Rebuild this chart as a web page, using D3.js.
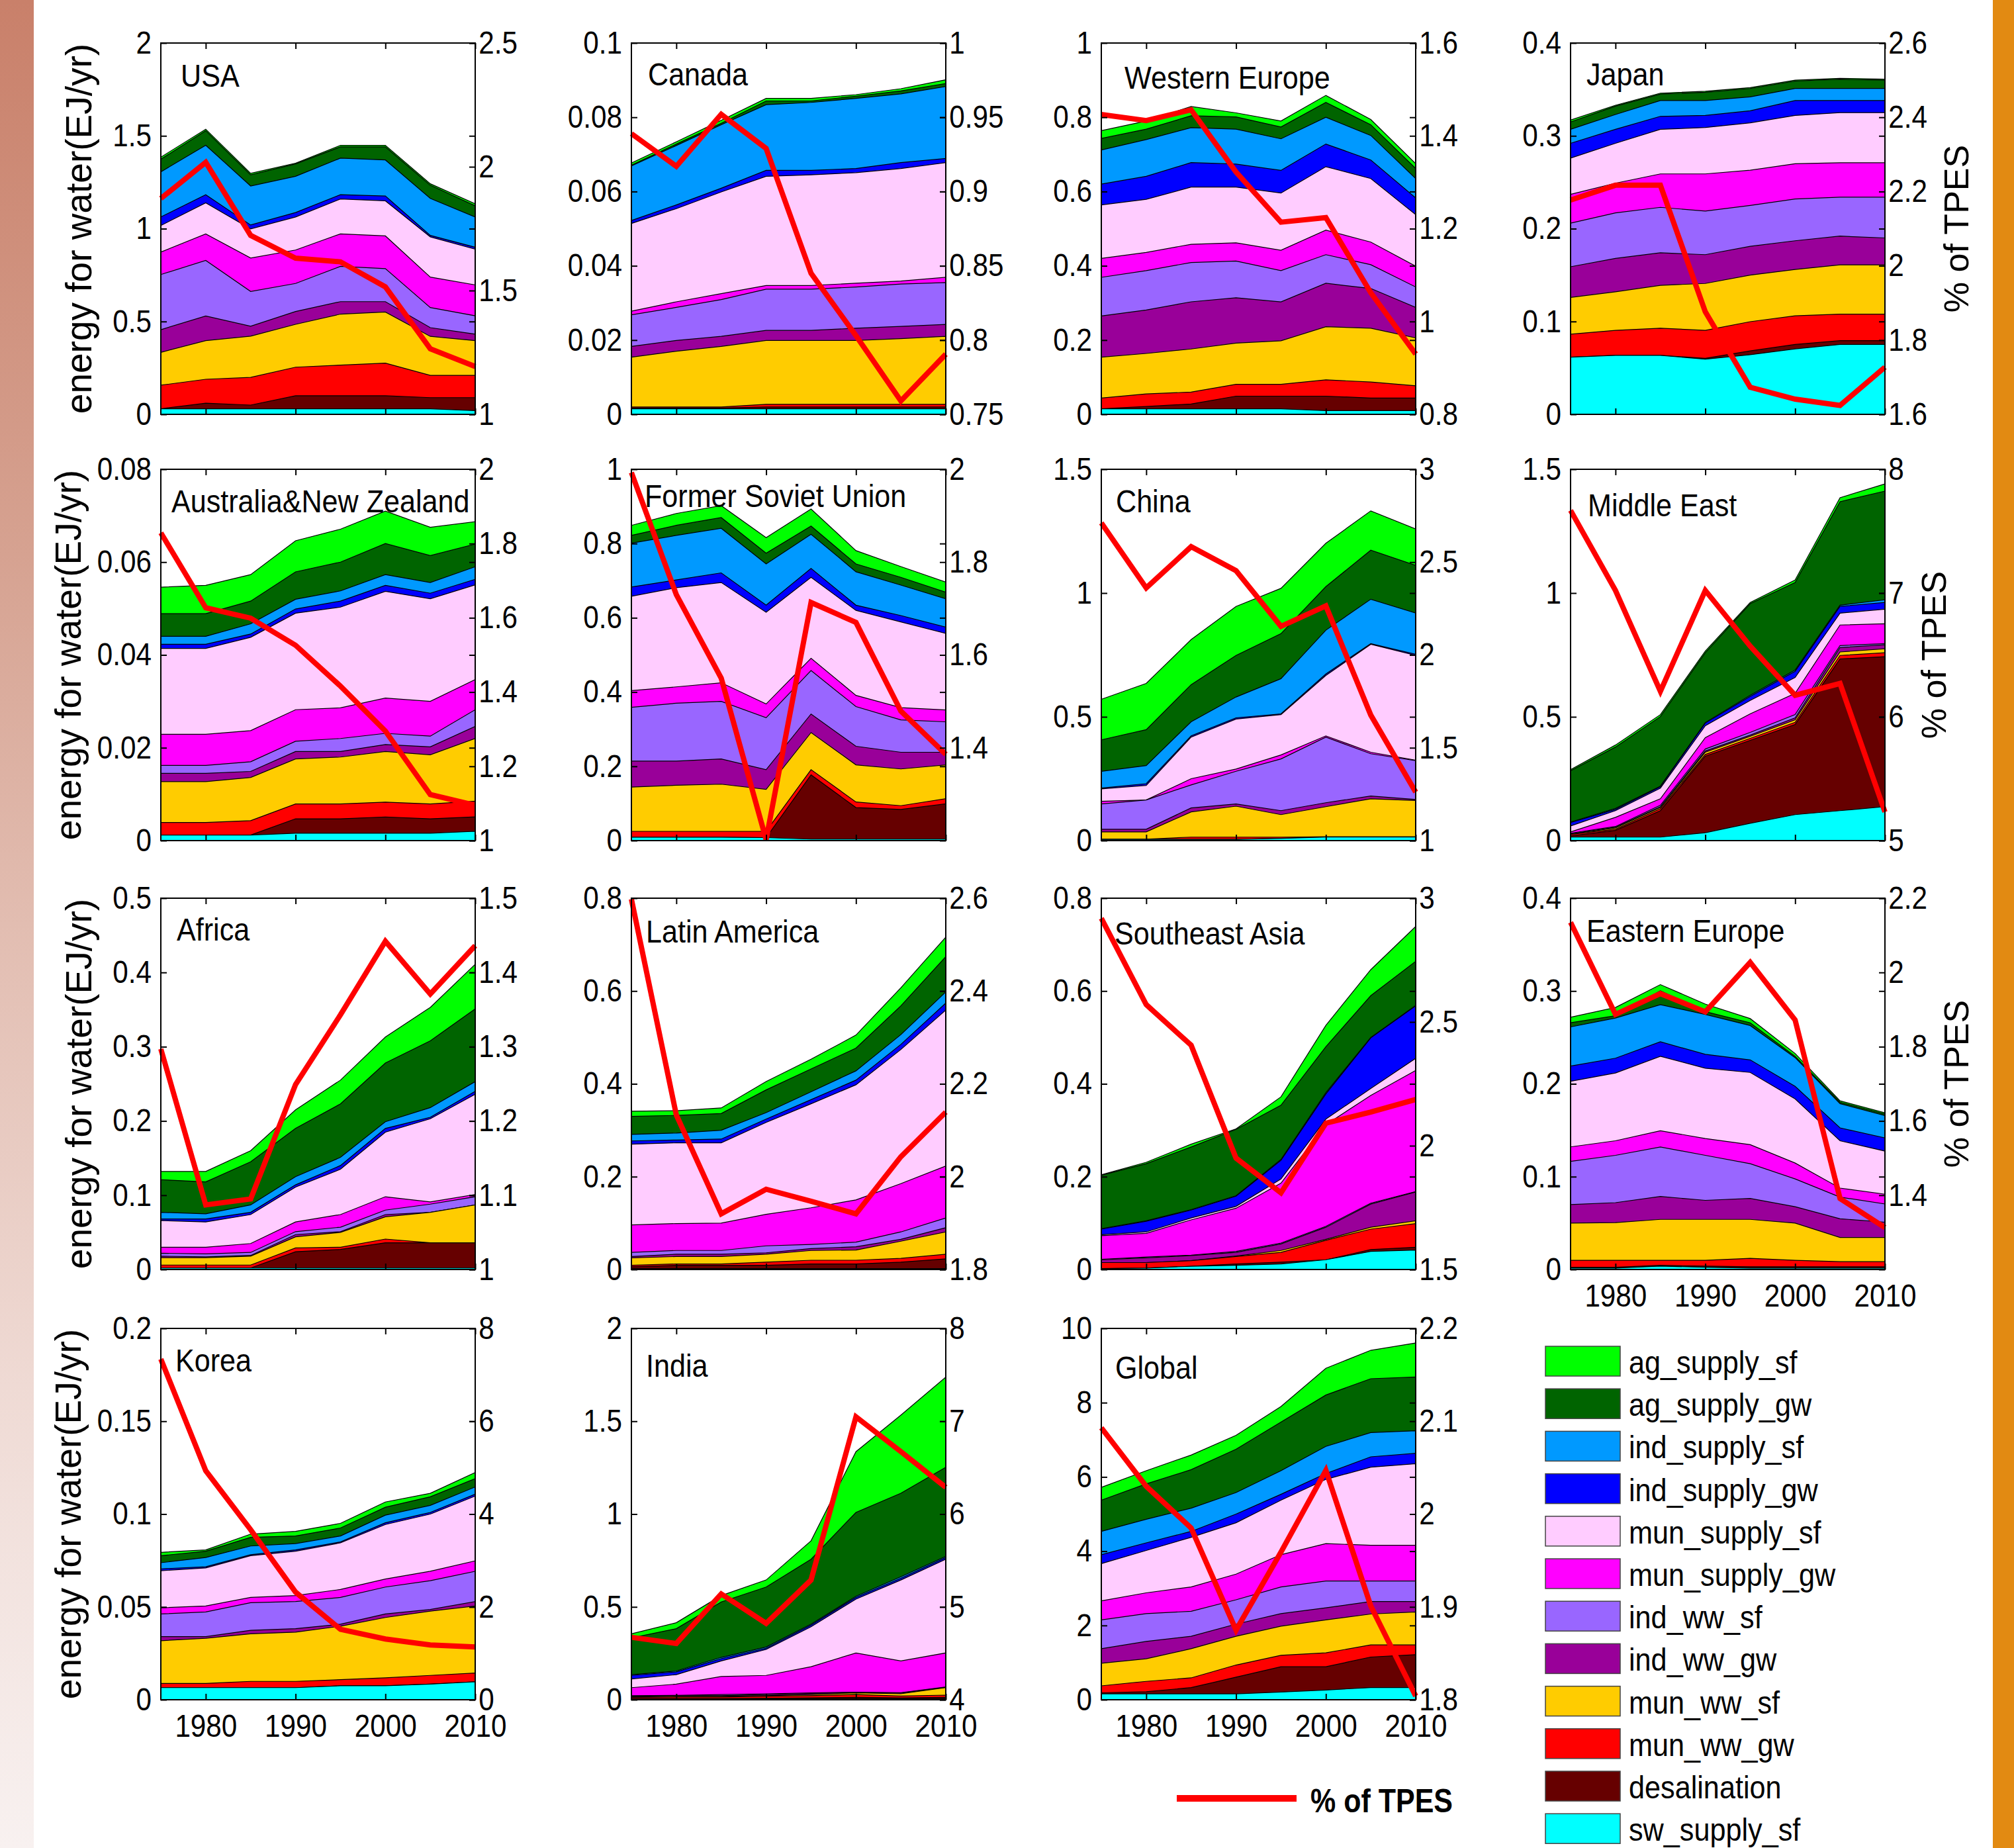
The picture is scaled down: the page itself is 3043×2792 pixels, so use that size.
<!DOCTYPE html>
<html>
<head>
<meta charset="utf-8">
<script src="https://cdn.jsdelivr.net/npm/d3@7"></script>
<style>
  body { margin: 0; background: #fff; }
  svg { display: block; }
  text { font-family: "Liberation Sans", Arial, sans-serif; }
</style>
</head>
<body>
<div id="chart"></div>
<script>
const years = [1975, 1980, 1985, 1990, 1995, 2000, 2005, 2010];
const xTicks = [1980, 1990, 2000, 2010];

// stacking order, bottom layer first
const layerNames = ['sw_supply_sf', 'desalination', 'mun_ww_gw', 'mun_ww_sf', 'ind_ww_gw', 'ind_ww_sf',
  'mun_supply_gw', 'mun_supply_sf', 'ind_supply_gw', 'ind_supply_sf', 'ag_supply_gw', 'ag_supply_sf'];
const layerColors = ['#00ffff', '#660000', '#ff0000', '#ffcc00', '#990099', '#9966ff',
  '#ff00ff', '#ffccff', '#0000ff', '#0099ff', '#006400', '#00ff00'];

// cumulative top of each layer (EJ/yr), one row per layer, bottom layer first
const usaLayers = [
  [0.03, 0.03, 0.03, 0.03, 0.03, 0.03, 0.03, 0.02],
  [0.03, 0.06, 0.05, 0.10, 0.10, 0.10, 0.09, 0.09],
  [0.157, 0.189, 0.199, 0.254, 0.265, 0.276, 0.21, 0.21],
  [0.334, 0.397, 0.421, 0.485, 0.54, 0.551, 0.42, 0.397],
  [0.456, 0.53, 0.475, 0.554, 0.607, 0.607, 0.467, 0.432],
  [0.753, 0.829, 0.662, 0.705, 0.797, 0.785, 0.575, 0.531],
  [0.874, 0.972, 0.842, 0.885, 0.972, 0.961, 0.739, 0.697],
  [1.017, 1.139, 0.999, 1.063, 1.16, 1.15, 0.956, 0.89],
  [1.063, 1.183, 1.02, 1.087, 1.183, 1.176, 0.964, 0.90],
  [1.306, 1.449, 1.23, 1.282, 1.38, 1.37, 1.163, 1.063],
  [1.374, 1.528, 1.29, 1.349, 1.441, 1.441, 1.234, 1.123],
  [1.385, 1.536, 1.298, 1.353, 1.449, 1.449, 1.242, 1.134]
];
const usaTpes = [1.872, 2.018, 1.723, 1.631, 1.616, 1.515, 1.265, 1.193];

const canadaLayers = [
  [0.0015, 0.0015, 0.0015, 0.0015, 0.0015, 0.0015, 0.0015, 0.0015],
  [0.0017, 0.0017, 0.0017, 0.002, 0.002, 0.002, 0.002, 0.002],
  [0.002, 0.002, 0.002, 0.0027, 0.0027, 0.0027, 0.0027, 0.0027],
  [0.0154, 0.017, 0.0183, 0.0199, 0.0199, 0.0199, 0.0204, 0.021],
  [0.0183, 0.0199, 0.021, 0.0226, 0.0226, 0.0232, 0.0237, 0.0242],
  [0.0268, 0.0288, 0.0309, 0.0337, 0.0337, 0.0343, 0.0351, 0.0355],
  [0.0278, 0.0303, 0.0325, 0.0347, 0.0347, 0.0353, 0.0359, 0.0369],
  [0.0514, 0.0554, 0.0599, 0.0641, 0.0645, 0.0651, 0.0662, 0.0678],
  [0.0522, 0.0564, 0.0609, 0.0657, 0.0657, 0.0662, 0.0678, 0.0689],
  [0.0669, 0.0724, 0.078, 0.0834, 0.084, 0.0851, 0.0863, 0.0883],
  [0.0671, 0.0728, 0.0784, 0.0844, 0.0844, 0.0857, 0.0871, 0.0891],
  [0.0677, 0.0734, 0.0792, 0.0851, 0.0851, 0.0861, 0.0877, 0.0901]
];
const canadaTpes = [0.939, 0.917, 0.952, 0.929, 0.845, 0.803, 0.759, 0.7905];

const weuropeLayers = [
  [0.015, 0.015, 0.015, 0.015, 0.015, 0.01, 0.01, 0.01],
  [0.015, 0.021, 0.028, 0.049, 0.049, 0.049, 0.044, 0.044],
  [0.044, 0.055, 0.06, 0.081, 0.081, 0.093, 0.087, 0.077],
  [0.154, 0.164, 0.176, 0.192, 0.198, 0.236, 0.232, 0.206],
  [0.265, 0.281, 0.303, 0.314, 0.303, 0.353, 0.339, 0.288],
  [0.369, 0.387, 0.409, 0.413, 0.387, 0.43, 0.403, 0.343],
  [0.42, 0.436, 0.458, 0.462, 0.442, 0.496, 0.464, 0.399],
  [0.564, 0.579, 0.612, 0.612, 0.596, 0.667, 0.635, 0.538],
  [0.62, 0.641, 0.678, 0.674, 0.657, 0.728, 0.685, 0.583],
  [0.712, 0.74, 0.772, 0.768, 0.742, 0.8, 0.751, 0.635],
  [0.743, 0.768, 0.804, 0.801, 0.774, 0.84, 0.78, 0.662],
  [0.764, 0.79, 0.829, 0.812, 0.79, 0.859, 0.794, 0.675]
];
const weuropeTpes = [1.446, 1.433, 1.456, 1.322, 1.214, 1.224, 1.062, 0.930];

const japanLayers = [
  [0.0616, 0.0635, 0.0635, 0.0594, 0.0642, 0.0705, 0.0753, 0.0753],
  [0.0616, 0.0635, 0.0635, 0.0604, 0.0683, 0.0753, 0.0794, 0.0794],
  [0.0864, 0.0905, 0.0928, 0.0905, 0.0998, 0.1061, 0.108, 0.108],
  [0.126, 0.132, 0.139, 0.141, 0.15, 0.156, 0.161, 0.161],
  [0.159, 0.168, 0.174, 0.172, 0.181, 0.187, 0.192, 0.19],
  [0.206, 0.217, 0.223, 0.219, 0.225, 0.232, 0.234, 0.234],
  [0.237, 0.249, 0.259, 0.259, 0.263, 0.27, 0.271, 0.271],
  [0.276, 0.292, 0.307, 0.309, 0.314, 0.322, 0.325, 0.325],
  [0.292, 0.307, 0.321, 0.322, 0.327, 0.338, 0.338, 0.338],
  [0.307, 0.323, 0.338, 0.338, 0.342, 0.351, 0.351, 0.351],
  [0.315, 0.332, 0.345, 0.347, 0.351, 0.359, 0.361, 0.36],
  [0.317, 0.333, 0.346, 0.348, 0.352, 0.36, 0.362, 0.361]
];
const japanTpes = [2.177, 2.217, 2.217, 1.876, 1.673, 1.641, 1.624, 1.727];

const ausnzLayers = [
  [0.0012, 0.0012, 0.0012, 0.0016, 0.0016, 0.0016, 0.0016, 0.002],
  [0.0012, 0.0012, 0.0012, 0.0047, 0.0047, 0.0051, 0.0047, 0.0051],
  [0.0039, 0.0039, 0.0043, 0.0079, 0.0079, 0.0083, 0.0079, 0.0085],
  [0.0127, 0.0127, 0.0136, 0.0176, 0.018, 0.0192, 0.0185, 0.022],
  [0.0145, 0.0145, 0.0149, 0.0192, 0.0192, 0.0207, 0.0202, 0.0246],
  [0.0162, 0.0162, 0.017, 0.0214, 0.022, 0.0231, 0.0225, 0.0282],
  [0.0229, 0.0229, 0.0237, 0.0282, 0.0286, 0.0307, 0.03, 0.0347],
  [0.0414, 0.0414, 0.0438, 0.049, 0.0503, 0.0537, 0.0521, 0.0551],
  [0.0423, 0.0423, 0.0445, 0.0499, 0.0516, 0.055, 0.0533, 0.0563],
  [0.044, 0.044, 0.0467, 0.052, 0.0538, 0.0573, 0.0556, 0.059],
  [0.0489, 0.0489, 0.0516, 0.0579, 0.06, 0.064, 0.0614, 0.0639],
  [0.0546, 0.055, 0.0573, 0.0646, 0.0671, 0.071, 0.0675, 0.0687]
];
const ausnzTpes = [1.829, 1.627, 1.599, 1.526, 1.416, 1.295, 1.124, 1.095];

const fsuLayers = [
  [0.009, 0.009, 0.009, 0.008, 0.004, 0.004, 0.004, 0.004],
  [0.009, 0.009, 0.009, 0.008, 0.177, 0.089, 0.084, 0.099],
  [0.025, 0.025, 0.025, 0.025, 0.191, 0.104, 0.094, 0.113],
  [0.144, 0.149, 0.152, 0.138, 0.291, 0.204, 0.193, 0.204],
  [0.214, 0.214, 0.22, 0.191, 0.341, 0.254, 0.238, 0.238],
  [0.359, 0.37, 0.375, 0.331, 0.458, 0.361, 0.325, 0.32],
  [0.404, 0.414, 0.425, 0.368, 0.491, 0.391, 0.358, 0.352],
  [0.658, 0.681, 0.695, 0.615, 0.709, 0.62, 0.589, 0.558],
  [0.683, 0.702, 0.721, 0.634, 0.733, 0.634, 0.606, 0.575],
  [0.801, 0.822, 0.841, 0.745, 0.825, 0.724, 0.688, 0.651],
  [0.822, 0.849, 0.87, 0.774, 0.847, 0.745, 0.709, 0.669],
  [0.849, 0.881, 0.902, 0.816, 0.893, 0.781, 0.738, 0.696]
];
const fsuTpes = [1.993, 1.730, 1.550, 1.202, 1.713, 1.670, 1.479, 1.386];

const chinaLayers = [
  [0.005, 0.005, 0.005, 0.005, 0.009, 0.014, 0.014, 0.014],
  [0.005, 0.005, 0.005, 0.005, 0.009, 0.014, 0.014, 0.014],
  [0.006, 0.006, 0.014, 0.014, 0.014, 0.016, 0.016, 0.016],
  [0.035, 0.035, 0.116, 0.139, 0.105, 0.137, 0.169, 0.162],
  [0.046, 0.046, 0.132, 0.148, 0.121, 0.153, 0.18, 0.166],
  [0.148, 0.164, 0.225, 0.28, 0.33, 0.418, 0.351, 0.323],
  [0.159, 0.164, 0.25, 0.289, 0.346, 0.423, 0.357, 0.325],
  [0.209, 0.223, 0.418, 0.491, 0.509, 0.667, 0.793, 0.748],
  [0.212, 0.23, 0.423, 0.496, 0.512, 0.673, 0.796, 0.753],
  [0.28, 0.303, 0.48, 0.58, 0.654, 0.85, 0.975, 0.919],
  [0.407, 0.448, 0.63, 0.748, 0.836, 1.026, 1.173, 1.112],
  [0.571, 0.635, 0.812, 0.946, 1.019, 1.201, 1.332, 1.259]
];
const chinaTpes = [2.711, 2.361, 2.583, 2.454, 2.154, 2.264, 1.676, 1.261];

const meastLayers = [
  [0.014, 0.014, 0.014, 0.032, 0.07, 0.105, 0.121, 0.137],
  [0.019, 0.041, 0.121, 0.341, 0.405, 0.469, 0.734, 0.743],
  [0.025, 0.046, 0.129, 0.348, 0.413, 0.478, 0.748, 0.759],
  [0.027, 0.051, 0.134, 0.357, 0.421, 0.488, 0.762, 0.775],
  [0.027, 0.054, 0.137, 0.362, 0.426, 0.496, 0.78, 0.791],
  [0.03, 0.057, 0.143, 0.37, 0.437, 0.509, 0.788, 0.796],
  [0.035, 0.094, 0.169, 0.416, 0.512, 0.595, 0.871, 0.876],
  [0.059, 0.121, 0.212, 0.464, 0.566, 0.659, 0.919, 0.935],
  [0.073, 0.126, 0.218, 0.475, 0.582, 0.684, 0.946, 0.962],
  [0.075, 0.13, 0.22, 0.477, 0.587, 0.689, 0.951, 0.973],
  [0.282, 0.378, 0.501, 0.759, 0.957, 1.043, 1.369, 1.412],
  [0.287, 0.386, 0.509, 0.766, 0.962, 1.053, 1.385, 1.441]
];
const meastTpes = [7.668, 7.021, 6.206, 7.021, 6.571, 6.174, 6.27, 5.231];

const africaLayers = [
  [0.002, 0.002, 0.002, 0.002, 0.002, 0.002, 0.002, 0.002],
  [0.002, 0.002, 0.002, 0.024, 0.027, 0.036, 0.036, 0.036],
  [0.006, 0.006, 0.006, 0.029, 0.03, 0.041, 0.036, 0.036],
  [0.016, 0.016, 0.018, 0.044, 0.05, 0.071, 0.077, 0.087],
  [0.018, 0.017, 0.019, 0.047, 0.051, 0.074, 0.077, 0.087],
  [0.022, 0.021, 0.023, 0.051, 0.057, 0.08, 0.088, 0.098],
  [0.03, 0.03, 0.035, 0.064, 0.074, 0.098, 0.091, 0.101],
  [0.066, 0.064, 0.074, 0.111, 0.135, 0.185, 0.203, 0.236],
  [0.068, 0.068, 0.077, 0.114, 0.14, 0.19, 0.205, 0.24],
  [0.077, 0.075, 0.087, 0.125, 0.151, 0.199, 0.218, 0.253],
  [0.121, 0.118, 0.145, 0.19, 0.223, 0.278, 0.308, 0.351],
  [0.132, 0.132, 0.16, 0.215, 0.255, 0.313, 0.353, 0.411]
];
const africaTpes = [1.297, 1.087, 1.095, 1.249, 1.343, 1.442, 1.371, 1.436];

const latamLayers = [
  [0.002, 0.002, 0.002, 0.002, 0.002, 0.002, 0.002, 0.002],
  [0.006, 0.009, 0.009, 0.009, 0.012, 0.012, 0.016, 0.023],
  [0.009, 0.012, 0.012, 0.016, 0.02, 0.02, 0.024, 0.033],
  [0.025, 0.028, 0.028, 0.033, 0.041, 0.042, 0.061, 0.081],
  [0.028, 0.033, 0.033, 0.036, 0.045, 0.049, 0.065, 0.09],
  [0.037, 0.041, 0.041, 0.051, 0.054, 0.059, 0.081, 0.111],
  [0.096, 0.099, 0.1, 0.119, 0.133, 0.15, 0.185, 0.223],
  [0.27, 0.273, 0.273, 0.317, 0.357, 0.398, 0.474, 0.559],
  [0.277, 0.279, 0.281, 0.324, 0.366, 0.408, 0.485, 0.574],
  [0.291, 0.294, 0.3, 0.338, 0.383, 0.428, 0.506, 0.598],
  [0.33, 0.332, 0.336, 0.387, 0.432, 0.477, 0.568, 0.674],
  [0.341, 0.342, 0.348, 0.405, 0.453, 0.505, 0.607, 0.716]
];
const latamTpes = [2.598, 2.133, 1.92, 1.973, 1.947, 1.92, 2.043, 2.139];

const seasiaLayers = [
  [0.002, 0.003, 0.007, 0.009, 0.012, 0.021, 0.039, 0.042],
  [0.002, 0.003, 0.007, 0.012, 0.016, 0.021, 0.043, 0.048],
  [0.015, 0.015, 0.019, 0.028, 0.037, 0.063, 0.087, 0.099],
  [0.015, 0.015, 0.019, 0.029, 0.041, 0.065, 0.091, 0.105],
  [0.021, 0.025, 0.03, 0.037, 0.055, 0.091, 0.141, 0.167],
  [0.022, 0.027, 0.031, 0.039, 0.057, 0.093, 0.143, 0.168],
  [0.073, 0.078, 0.107, 0.132, 0.186, 0.312, 0.375, 0.429],
  [0.075, 0.081, 0.111, 0.136, 0.195, 0.324, 0.39, 0.455],
  [0.087, 0.104, 0.128, 0.158, 0.235, 0.378, 0.499, 0.568],
  [0.088, 0.105, 0.129, 0.159, 0.237, 0.381, 0.5, 0.569],
  [0.203, 0.228, 0.264, 0.302, 0.354, 0.48, 0.59, 0.664],
  [0.204, 0.231, 0.27, 0.303, 0.372, 0.526, 0.646, 0.739]
];
const seasiaTpes = [2.919, 2.57, 2.406, 1.95, 1.81, 2.091, 2.136, 2.187];

const eeuropeLayers = [
  [0.0015, 0.0015, 0.0036, 0.0024, 0.0015, 0.0015, 0.0015, 0.0015],
  [0.0024, 0.0024, 0.0045, 0.0036, 0.003, 0.003, 0.003, 0.003],
  [0.0099, 0.0099, 0.0099, 0.0099, 0.012, 0.0099, 0.0084, 0.0084],
  [0.05, 0.0505, 0.054, 0.054, 0.054, 0.05, 0.0345, 0.0345],
  [0.07, 0.072, 0.0787, 0.0745, 0.0766, 0.0676, 0.0547, 0.051],
  [0.1165, 0.123, 0.132, 0.123, 0.114, 0.0976, 0.078, 0.0706],
  [0.1321, 0.1387, 0.1495, 0.1411, 0.1345, 0.1147, 0.0877, 0.0811],
  [0.2027, 0.2117, 0.2297, 0.2168, 0.2123, 0.1838, 0.1387, 0.1276],
  [0.2192, 0.2276, 0.2453, 0.2318, 0.2258, 0.1973, 0.1526, 0.1417],
  [0.2613, 0.2709, 0.2853, 0.2748, 0.2628, 0.2282, 0.1787, 0.1658],
  [0.2658, 0.2733, 0.3003, 0.2778, 0.2658, 0.2297, 0.1802, 0.1676],
  [0.2718, 0.2823, 0.3069, 0.2859, 0.2703, 0.2327, 0.1817, 0.1688]
];
const eeuropeTpes = [2.135, 1.887, 1.943, 1.894, 2.027, 1.872, 1.391, 1.313];

const koreaLayers = [
  [0.0065, 0.0065, 0.0065, 0.0065, 0.0075, 0.0075, 0.0084, 0.0097],
  [0.0065, 0.0065, 0.0065, 0.0065, 0.0075, 0.0075, 0.0084, 0.0097],
  [0.0088, 0.0088, 0.0099, 0.0099, 0.0108, 0.0118, 0.0131, 0.0144],
  [0.0318, 0.0331, 0.0355, 0.0364, 0.0396, 0.0443, 0.0477, 0.0505],
  [0.034, 0.034, 0.0374, 0.0383, 0.0407, 0.0462, 0.0486, 0.0529],
  [0.0462, 0.0473, 0.0523, 0.0529, 0.0551, 0.0607, 0.0641, 0.0692],
  [0.0495, 0.0505, 0.0551, 0.0561, 0.0594, 0.065, 0.0692, 0.0748],
  [0.0695, 0.071, 0.0776, 0.08, 0.0845, 0.0944, 0.1, 0.1097],
  [0.0705, 0.0716, 0.0781, 0.0807, 0.085, 0.0953, 0.1009, 0.1107],
  [0.0738, 0.0766, 0.0828, 0.0841, 0.0882, 0.0994, 0.1047, 0.1146],
  [0.0776, 0.08, 0.0875, 0.0882, 0.0925, 0.1037, 0.1093, 0.1191],
  [0.0794, 0.0807, 0.0892, 0.0907, 0.095, 0.1065, 0.1112, 0.1224]
];
const koreaTpes = [7.342, 4.935, 3.664, 2.318, 1.518, 1.308, 1.181, 1.136];

const indiaLayers = [
  [0.006, 0.006, 0.006, 0.006, 0.006, 0.006, 0.006, 0.006],
  [0.006, 0.006, 0.006, 0.008, 0.010, 0.013, 0.010, 0.013],
  [0.013, 0.015, 0.015, 0.019, 0.022, 0.028, 0.02, 0.025],
  [0.015, 0.019, 0.019, 0.022, 0.028, 0.037, 0.032, 0.065],
  [0.019, 0.022, 0.022, 0.028, 0.034, 0.039, 0.036, 0.067],
  [0.022, 0.024, 0.028, 0.032, 0.037, 0.041, 0.038, 0.069],
  [0.065, 0.084, 0.125, 0.131, 0.178, 0.252, 0.209, 0.252],
  [0.112, 0.135, 0.209, 0.271, 0.393, 0.542, 0.645, 0.757],
  [0.131, 0.15, 0.221, 0.277, 0.402, 0.551, 0.654, 0.766],
  [0.135, 0.155, 0.228, 0.284, 0.407, 0.557, 0.662, 0.772],
  [0.333, 0.383, 0.527, 0.607, 0.757, 1.009, 1.112, 1.252],
  [0.355, 0.415, 0.561, 0.645, 0.856, 1.336, 1.533, 1.738]
];
const indiaTpes = [4.673, 4.606, 5.14, 4.822, 5.29, 7.047, 6.673, 6.288];

const globalLayers = [
  [0.159, 0.159, 0.159, 0.159, 0.206, 0.262, 0.327, 0.327],
  [0.187, 0.215, 0.327, 0.607, 0.888, 0.888, 1.15, 1.215],
  [0.374, 0.495, 0.589, 0.935, 1.196, 1.262, 1.477, 1.477],
  [0.981, 1.103, 1.374, 1.71, 1.981, 2.15, 2.308, 2.364],
  [1.374, 1.57, 1.71, 2.037, 2.318, 2.477, 2.645, 2.645],
  [2.15, 2.318, 2.383, 2.692, 3.037, 3.196, 3.196, 3.196],
  [2.664, 2.879, 3.037, 3.383, 3.907, 4.206, 4.159, 4.159],
  [3.664, 4.019, 4.374, 4.766, 5.374, 5.935, 6.262, 6.355],
  [3.907, 4.224, 4.533, 5.0, 5.533, 6.093, 6.542, 6.636],
  [4.533, 4.86, 5.159, 5.579, 6.168, 6.822, 7.196, 7.243],
  [5.374, 5.813, 6.196, 6.748, 7.477, 8.206, 8.645, 8.692],
  [5.72, 6.168, 6.589, 7.121, 7.897, 8.925, 9.411, 9.607]
];
const globalTpes = [2.093, 2.03, 1.985, 1.875, 1.959, 2.047, 1.901, 1.804];

// panel setup: left axis ticks (EJ/yr) and right axis ticks (% of TPES)
const panels = [
  { name: 'USA', layers: usaLayers, tpes: usaTpes, col: 0, row: 0, yTicks: [0, 0.5, 1, 1.5, 2], rDom: [1, 2.5], rTicks: [1, 1.5, 2, 2.5], tx: 30, ty: 66 },
  { name: 'Canada', layers: canadaLayers, tpes: canadaTpes, col: 1, row: 0, yTicks: [0, 0.02, 0.04, 0.06, 0.08, 0.1], rDom: [0.75, 1], rTicks: [0.75, 0.8, 0.85, 0.9, 0.95, 1], tx: 25, ty: 64 },
  { name: 'Western Europe', layers: weuropeLayers, tpes: weuropeTpes, col: 2, row: 0, yTicks: [0, 0.2, 0.4, 0.6, 0.8, 1], rDom: [0.8, 1.6], rTicks: [0.8, 1, 1.2, 1.4, 1.6], tx: 35, ty: 69 },
  { name: 'Japan', layers: japanLayers, tpes: japanTpes, col: 3, row: 0, yTicks: [0, 0.1, 0.2, 0.3, 0.4], rDom: [1.6, 2.6], rTicks: [1.6, 1.8, 2, 2.2, 2.4, 2.6], tx: 24, ty: 64 },
  { name: 'Australia&New Zealand', layers: ausnzLayers, tpes: ausnzTpes, col: 0, row: 1, yTicks: [0, 0.02, 0.04, 0.06, 0.08], rDom: [1, 2], rTicks: [1, 1.2, 1.4, 1.6, 1.8, 2], tx: 16, ty: 65 },
  { name: 'Former Soviet Union', layers: fsuLayers, tpes: fsuTpes, col: 1, row: 1, yTicks: [0, 0.2, 0.4, 0.6, 0.8, 1], rDom: [1.2, 2], rTicks: [1.4, 1.6, 1.8, 2], tx: 20, ty: 57 },
  { name: 'China', layers: chinaLayers, tpes: chinaTpes, col: 2, row: 1, yTicks: [0, 0.5, 1, 1.5], rDom: [1, 3], rTicks: [1, 1.5, 2, 2.5, 3], tx: 22, ty: 65 },
  { name: 'Middle East', layers: meastLayers, tpes: meastTpes, col: 3, row: 1, yTicks: [0, 0.5, 1, 1.5], rDom: [5, 8], rTicks: [5, 6, 7, 8], tx: 26, ty: 71 },
  { name: 'Africa', layers: africaLayers, tpes: africaTpes, col: 0, row: 2, yTicks: [0, 0.1, 0.2, 0.3, 0.4, 0.5], rDom: [1, 1.5], rTicks: [1, 1.1, 1.2, 1.3, 1.4, 1.5], tx: 24, ty: 64 },
  { name: 'Latin America', layers: latamLayers, tpes: latamTpes, col: 1, row: 2, yTicks: [0, 0.2, 0.4, 0.6, 0.8], rDom: [1.8, 2.6], rTicks: [1.8, 2, 2.2, 2.4, 2.6], tx: 22, ty: 67 },
  { name: 'Southeast Asia', layers: seasiaLayers, tpes: seasiaTpes, col: 2, row: 2, yTicks: [0, 0.2, 0.4, 0.6, 0.8], rDom: [1.5, 3], rTicks: [1.5, 2, 2.5, 3], tx: 20, ty: 70 },
  { name: 'Eastern Europe', layers: eeuropeLayers, tpes: eeuropeTpes, col: 3, row: 2, yTicks: [0, 0.1, 0.2, 0.3, 0.4], rDom: [1.2, 2.2], rTicks: [1.4, 1.6, 1.8, 2, 2.2], tx: 24, ty: 66, xLabels: true },
  { name: 'Korea', layers: koreaLayers, tpes: koreaTpes, col: 0, row: 3, yTicks: [0, 0.05, 0.1, 0.15, 0.2], rDom: [0, 8], rTicks: [0, 2, 4, 6, 8], tx: 22, ty: 65, xLabels: true },
  { name: 'India', layers: indiaLayers, tpes: indiaTpes, col: 1, row: 3, yTicks: [0, 0.5, 1, 1.5, 2], rDom: [4, 8], rTicks: [4, 5, 6, 7, 8], tx: 22, ty: 73, xLabels: true },
  { name: 'Global', layers: globalLayers, tpes: globalTpes, col: 2, row: 3, yTicks: [0, 2, 4, 6, 8, 10], rDom: [1.8, 2.2], rTicks: [1.8, 1.9, 2, 2.1, 2.2], tx: 21, ty: 76, xLabels: true }
];

const colX = [243, 954, 1664, 2373];
const rowY = [65, 709, 1357, 2007];
const W = 475, H = 561;
const tickFont = 48, squeeze = 0.88;
const yLabelX = [138, 122, 138, 122];
const tpesLabelX = [2974, 2940, 2974];

const svg = d3.select('#chart').append('svg')
  .attr('width', 3043)
  .attr('height', 2792);

// side strips
const defs = svg.append('defs');
const lg = defs.append('linearGradient').attr('id', 'leftStrip')
  .attr('x1', 0).attr('y1', 0).attr('x2', 0).attr('y2', 1);
[['0', '#c9806a'], ['0.3', '#d6a291'], ['0.5', '#e2bdb1'], ['0.75', '#efdad4'], ['1', '#f8f1f0']]
  .forEach(s => lg.append('stop').attr('offset', s[0]).attr('stop-color', s[1]));
svg.append('rect').attr('x', 0).attr('y', 0).attr('width', 51).attr('height', 2792).attr('fill', 'url(#leftStrip)');
svg.append('rect').attr('x', 3011).attr('y', 0).attr('width', 32).attr('height', 2792).attr('fill', '#e28a12');

const fmt = d => String(d);

const styleAxis = (sel, labels) => {
  sel.select('.domain').remove();
  sel.selectAll('line').attr('stroke', '#000').attr('stroke-width', 2);
  sel.attr('font-size', tickFont).attr('font-family', '"Liberation Sans", Arial, sans-serif');
  sel.selectAll('text').attr('fill', '#000').attr('transform', `scale(${squeeze},1)`);
  if (!labels) sel.selectAll('text').remove();
};

const drawPanel = (p) => {
  const g = svg.append('g')
    .attr('transform', `translate(${colX[p.col]},${rowY[p.row]})`);

  const x = d3.scaleLinear().domain([1975, 2010]).range([0, W]);
  const y = d3.scaleLinear().domain([0, p.yTicks[p.yTicks.length - 1]]).range([H, 0]);
  const r = d3.scaleLinear().domain(p.rDom).range([H, 0]);

  // areas drawn from the top layer down, each filled to zero
  const area = d3.area()
    .x((d, i) => x(years[i]))
    .y0(y(0))
    .y1(d => y(d));
  const order = p.layers.map((v, i) => ({ v, i })).reverse();
  g.selectAll('path.layer')
    .data(order)
    .enter()
    .append('path')
    .attr('class', 'layer')
    .attr('d', d => area(d.v))
    .attr('fill', d => layerColors[d.i])
    .attr('stroke', '#000')
    .attr('stroke-width', 1.2);

  const line = d3.line()
    .x((d, i) => x(years[i]))
    .y(d => r(d));
  g.append('path')
    .attr('d', line(p.tpes))
    .attr('fill', 'none')
    .attr('stroke', '#ff0000')
    .attr('stroke-width', 8)
    .attr('stroke-linejoin', 'miter')
    .attr('stroke-miterlimit', 4);

  g.append('rect')
    .attr('width', W).attr('height', H)
    .attr('fill', 'none').attr('stroke', '#000').attr('stroke-width', 2);

  g.append('g').call(d3.axisLeft(y).tickValues(p.yTicks).tickSize(-9).tickSizeOuter(0).tickPadding(16).tickFormat(fmt))
    .call(s => styleAxis(s, true));
  g.append('g').attr('transform', `translate(${W},0)`)
    .call(d3.axisRight(y).tickValues(p.yTicks).tickSize(-9).tickSizeOuter(0).tickFormat(''))
    .call(s => styleAxis(s, false));
  g.append('g').attr('transform', `translate(${W},0)`)
    .call(d3.axisRight(r).tickValues(p.rTicks).tickSize(-9).tickSizeOuter(0).tickPadding(6).tickFormat(fmt))
    .call(s => styleAxis(s, true));
  g.append('g').attr('transform', `translate(0,${H})`)
    .call(d3.axisBottom(x).tickValues(xTicks).tickSize(-9).tickSizeOuter(0).tickPadding(22).tickFormat(fmt))
    .call(s => styleAxis(s, !!p.xLabels));
  g.append('g')
    .call(d3.axisTop(x).tickValues(xTicks).tickSize(-9).tickSizeOuter(0).tickFormat(''))
    .call(s => styleAxis(s, false));

  g.append('text')
    .attr('transform', `translate(${p.tx},${p.ty}) scale(${squeeze},1)`)
    .attr('font-size', 49)
    .text(p.name);

  if (p.col === 0) {
    svg.append('text')
      .attr('transform', `translate(${yLabelX[p.row]},${rowY[p.row] + H / 2}) rotate(-90)`)
      .attr('text-anchor', 'middle')
      .attr('font-size', 55)
      .text('energy for water(EJ/yr)');
  }
  if (p.col === 3) {
    svg.append('text')
      .attr('transform', `translate(${tpesLabelX[p.row]},${rowY[p.row] + H / 2}) rotate(-90)`)
      .attr('text-anchor', 'middle')
      .attr('font-size', 52)
      .text('% of TPES');
  }
};

panels.forEach(drawPanel);

// layer legend, top of the stack first
const legend = svg.append('g').attr('transform', 'translate(2335,2034)');
const items = layerNames.map((n, i) => ({ n, c: layerColors[i] })).reverse();
const li = legend.selectAll('g.item')
  .data(items)
  .enter()
  .append('g')
  .attr('class', 'item')
  .attr('transform', (d, i) => `translate(0,${i * 64.2})`);
li.append('rect')
  .attr('width', 113).attr('height', 45)
  .attr('fill', d => d.c)
  .attr('stroke', '#444').attr('stroke-width', 1.5);
li.append('text')
  .attr('transform', 'translate(126,41) scale(0.9,1)')
  .attr('font-size', 48)
  .text(d => d.n);

// line legend
svg.append('line')
  .attr('x1', 1778).attr('x2', 1959).attr('y1', 2717).attr('y2', 2717)
  .attr('stroke', '#ff0000').attr('stroke-width', 10);
svg.append('text')
  .attr('transform', 'translate(1980,2738) scale(0.86,1)')
  .attr('font-size', 50)
  .attr('font-weight', 'bold')
  .text('% of TPES');
</script>
</body>
</html>
